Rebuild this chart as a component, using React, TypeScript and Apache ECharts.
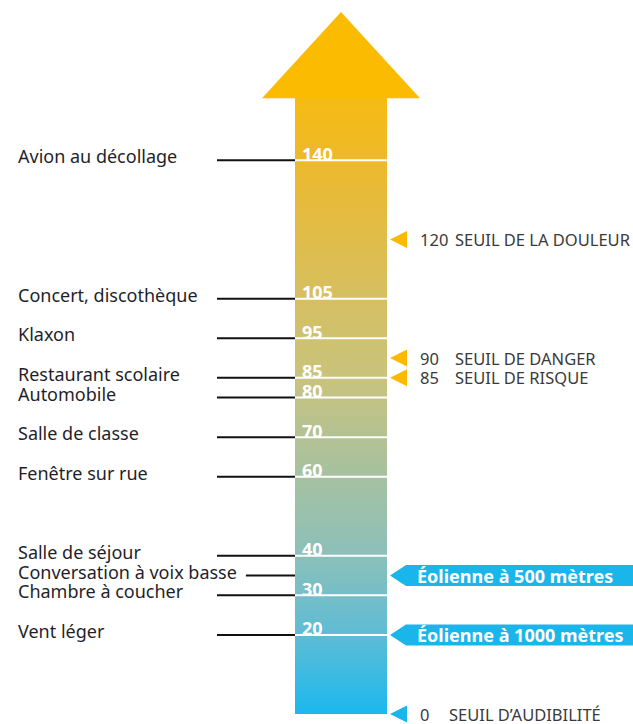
import React, { useEffect, useRef } from "react";
import * as echarts from "echarts";

// ---- data ----
const sourceNames = [
  "Avion au décollage",
  "Concert, discothèque",
  "Klaxon",
  "Restaurant scolaire",
  "Automobile",
  "Salle de classe",
  "Fenêtre sur rue",
  "Salle de séjour",
  "Conversation à voix basse",
  "Chambre à coucher",
  "Vent léger",
];
const sourceLevels = [140, 105, 95, 85, 80, 70, 60, 40, 35, 30, 20];
const scaleTicks = [140, 105, 95, 85, 80, 70, 60, 40, 30, 20];
const thresholdLevels = [120, 90, 85, 0];
const thresholdNames = [
  "SEUIL DE LA DOULEUR",
  "SEUIL DE DANGER",
  "SEUIL DE RISQUE",
  "SEUIL D’AUDIBILITÉ",
];
const windNames = ["Éolienne à 500 mètres", "Éolienne à 1000 mètres"];
const windLevels = [35, 20];

// ---- layout ----
const FONT = "'Noto Sans', 'Open Sans', sans-serif";
const SHAFT_L = 295;
const SHAFT_R = 387;
const HEAD_L = 262;
const HEAD_R = 420;
const TIP_X = 341;
const NECK = 155.8;
const TIP = 177.5;
const LABEL_X = 18;
const LEADER_X = 217;

let measureCtx: CanvasRenderingContext2D | null = null;
function textWidth(t: string, font: string) {
  if (!measureCtx) measureCtx = document.createElement("canvas").getContext("2d");
  if (!measureCtx) return t.length * 9;
  measureCtx.font = font;
  return measureCtx.measureText(t).width;
}

export default function App() {
  const ref = useRef<HTMLDivElement>(null);
  useEffect(() => {
    if (!ref.current) return;
    const chart = echarts.init(ref.current, null, { renderer: "svg" });
    const labelFont = `18px ${FONT}`;
    const rightFont = `16.5px ${FONT}`;
    const shaftGradient = new echarts.graphic.LinearGradient(0, 0, 0, 1, [
      { offset: 0, color: "#F6BB12" },
      { offset: 0.104, color: "#EDB92C" },
      { offset: 0.32, color: "#D6BF60" },
      { offset: 0.455, color: "#C8C37D" },
      { offset: 0.617, color: "#A5C1A1" },
      { offset: 0.74, color: "#8CC0B9" },
      { offset: 0.872, color: "#5EBCD5" },
      { offset: 1, color: "#1BB8EE" },
    ]);

    const option: any = {
      animation: false,
      grid: { left: 0, right: 0, top: 12, bottom: 10 },
      xAxis: { type: "value", min: 0, max: 633, show: false },
      yAxis: { type: "value", min: 0, max: TIP, show: false },
      series: [
        {
          type: "custom",
          name: "arrow",
          data: [[0, 0]],
          renderItem: (_p: any, api: any) => {
            const b = api.coord([SHAFT_L, 0]);
            const n = api.coord([SHAFT_L, NECK]);
            const t = api.coord([TIP_X, TIP]);
            return {
              type: "group",
              children: [
                {
                  type: "rect",
                  shape: { x: SHAFT_L, y: n[1], width: SHAFT_R - SHAFT_L, height: b[1] - n[1] },
                  style: { fill: shaftGradient },
                },
                {
                  type: "polygon",
                  shape: { points: [[HEAD_L, n[1] + 0.5], [t[0], t[1]], [HEAD_R, n[1] + 0.5]] },
                  style: { fill: "#FBBB00" },
                },
              ],
            };
          },
        },
        {
          type: "custom",
          name: "ticks",
          data: scaleTicks.map((v) => [0, v]),
          renderItem: (params: any, api: any) => {
            const v = scaleTicks[params.dataIndex];
            const y = api.coord([0, v])[1];
            return {
              type: "group",
              children: [
                {
                  type: "line",
                  shape: { x1: SHAFT_L, y1: y, x2: SHAFT_R, y2: y },
                  style: { stroke: "#ffffff", lineWidth: 2 },
                },
                {
                  type: "text",
                  style: {
                    text: String(v),
                    x: 302,
                    y: y + 2.5,
                    fill: "#ffffff",
                    font: `bold 18px ${FONT}`,
                    align: "left",
                    verticalAlign: "bottom",
                  },
                },
              ],
            };
          },
        },
        {
          type: "custom",
          name: "sources",
          data: sourceLevels.map((v) => [0, v]),
          renderItem: (params: any, api: any) => {
            const i = params.dataIndex;
            const y = api.coord([0, sourceLevels[i]])[1];
            const w = textWidth(sourceNames[i], labelFont);
            const x1 = Math.max(LEADER_X, LABEL_X + w + 9);
            return {
              type: "group",
              children: [
                {
                  type: "line",
                  shape: { x1, y1: y, x2: SHAFT_L, y2: y },
                  style: { stroke: "#111111", lineWidth: 2 },
                },
                {
                  type: "text",
                  style: {
                    text: sourceNames[i],
                    x: LABEL_X,
                    y: y - 4,
                    fill: "#1f1f2a",
                    font: labelFont,
                    align: "left",
                    verticalAlign: "middle",
                  },
                },
              ],
            };
          },
        },
        {
          type: "custom",
          name: "thresholds",
          data: thresholdLevels.map((v) => [0, v]),
          renderItem: (params: any, api: any) => {
            const i = params.dataIndex;
            const v = thresholdLevels[i];
            const y = api.coord([0, v])[1];
            const color = v === 0 ? "#1AB5EA" : "#FBBA00";
            return {
              type: "group",
              children: [
                {
                  type: "polygon",
                  shape: { points: [[390, y], [407, y - 8.5], [407, y + 8.5]] },
                  style: { fill: color },
                },
                {
                  type: "text",
                  style: {
                    text: String(v),
                    x: 420,
                    y,
                    fill: "#3a3a3a",
                    font: rightFont,
                    align: "left",
                    verticalAlign: "middle",
                  },
                },
                {
                  type: "text",
                  style: {
                    text: thresholdNames[i],
                    x: v === 0 ? 449 : 455,
                    y,
                    fill: "#3a3a3a",
                    font: rightFont,
                    align: "left",
                    verticalAlign: "middle",
                  },
                },
              ],
            };
          },
        },
        {
          type: "custom",
          name: "wind",
          data: windLevels.map((v) => [0, v]),
          renderItem: (params: any, api: any) => {
            const i = params.dataIndex;
            const y = api.coord([0, windLevels[i]])[1];
            const h = 10.5;
            return {
              type: "group",
              children: [
                {
                  type: "polygon",
                  shape: {
                    points: [[390, y], [406, y - h], [633, y - h], [633, y + h], [406, y + h]],
                  },
                  style: { fill: "#1AB5EA" },
                },
                {
                  type: "text",
                  style: {
                    text: windNames[i],
                    x: 417,
                    y: y + 0.5,
                    fill: "#ffffff",
                    font: `bold 18px ${FONT}`,
                    align: "left",
                    verticalAlign: "middle",
                  },
                },
              ],
            };
          },
        },
      ],
    };
    chart.setOption(option);
    return () => chart.dispose();
  }, []);

  return (
    <div
      ref={ref}
      style={{ position: "fixed", left: 0, top: 0, width: 633, height: 724, background: "#ffffff" }}
    />
  );
}
